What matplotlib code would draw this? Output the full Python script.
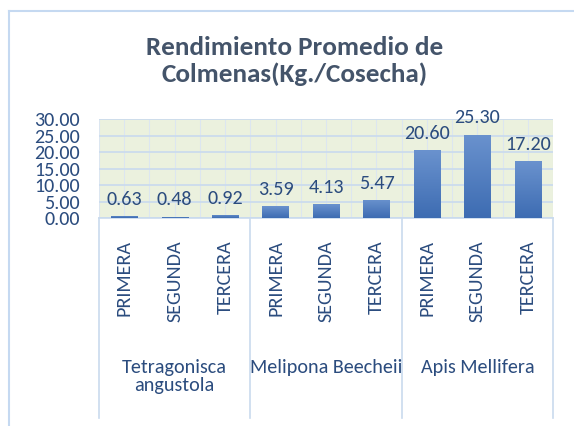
import numpy as np
import matplotlib.pyplot as plt
from matplotlib.lines import Line2D
from matplotlib.colors import LinearSegmentedColormap

# data
especies = ['Tetragonisca\nangustola', 'Melipona Beecheii', 'Apis Mellifera']
cosechas = ['PRIMERA', 'SEGUNDA', 'TERCERA']
rendimiento = [0.63, 0.48, 0.92, 3.59, 4.13, 5.47, 20.60, 25.30, 17.20]

plt.rcParams['font.family'] = ['Carlito', 'DejaVu Sans']
txt = '#2B4C7E'
grid = '#C9DAEE'

fig = plt.figure(figsize=(5.74, 4.26), dpi=100)
ax = fig.add_axes([0.1725, 0.488, 0.791, 0.2324])
ax.set_facecolor('#EBF1DE')

x = np.arange(len(rendimiento))
bars = ax.bar(x, rendimiento, width=0.52, color='#4A7BC4', zorder=3)

# light-to-dark gradient on each bar, like the excel fill
cmap = LinearSegmentedColormap.from_list('barfill', ['#3D6CB2', '#6A92CE'])
grad = np.linspace(0, 1, 100).reshape(-1, 1)
for b in bars:
    x0, y0 = b.get_x(), b.get_y()
    im = ax.imshow(grad, extent=[x0, x0 + b.get_width(), y0, y0 + b.get_height()],
                   origin='lower', aspect='auto', cmap=cmap, zorder=3.5)
    im.set_clip_path(b)

for xi, v in zip(x, rendimiento):
    ax.annotate('%.2f' % v, (xi, v), xytext=(0, 6), textcoords='offset points',
                ha='center', va='bottom', fontsize=14.5, color=txt, annotation_clip=False)

ax.set_xlim(-0.5, len(rendimiento) - 0.5)
ax.set_ylim(0, 30)
ax.set_yticks(np.arange(0, 31, 5))
ax.set_yticklabels(['%.2f' % t for t in np.arange(0, 31, 5)], fontsize=14.5, color=txt)
ax.tick_params(axis='y', length=0, pad=14)

# vertical grid every half category, horizontal every 5
for gx in np.arange(-0.5, len(rendimiento), 0.5):
    ax.axvline(gx, color='#DCE6F0', lw=0.8, zorder=1)
ax.grid(axis='y', color=grid, lw=1.2, zorder=2)
for s in ax.spines.values():
    s.set_visible(False)

ax.set_xticks(x)
ax.set_xticklabels(cosechas * 3, rotation=90, fontsize=14.5, color=txt, va='top')
ax.tick_params(axis='x', length=0, pad=16)

# category axis separators and group labels
tr = ax.get_xaxis_transform()
for b in [-0.5, 2.5, 5.5, 8.5]:
    ax.add_line(Line2D([b, b], [0, -2.02], transform=tr, color=grid, lw=1.2, clip_on=False))
ax.add_line(Line2D([-0.5, 8.5], [0, 0], transform=tr, color=grid, lw=1.2, clip_on=False))
for i, name in enumerate(especies):
    ax.text(3 * i + 1, -1.42, name, transform=tr, ha='center', va='top',
            fontsize=14.5, color=txt, linespacing=1.1)

fig.text(0.514, 0.857, 'Rendimiento Promedio de\nColmenas(Kg./Cosecha)', ha='center', va='center',
         fontsize=19.5, fontweight='bold', color='#44546A', linespacing=1.2)

# chart border
fig.add_artist(Line2D([9 / 574, 9 / 574], [0, 1 - 11 / 426], color='#C5D9F1', lw=1.5))
fig.add_artist(Line2D([9 / 574, 1], [1 - 11 / 426, 1 - 11 / 426], color='#C5D9F1', lw=1.5))

fig.savefig('out.png', dpi=100)
